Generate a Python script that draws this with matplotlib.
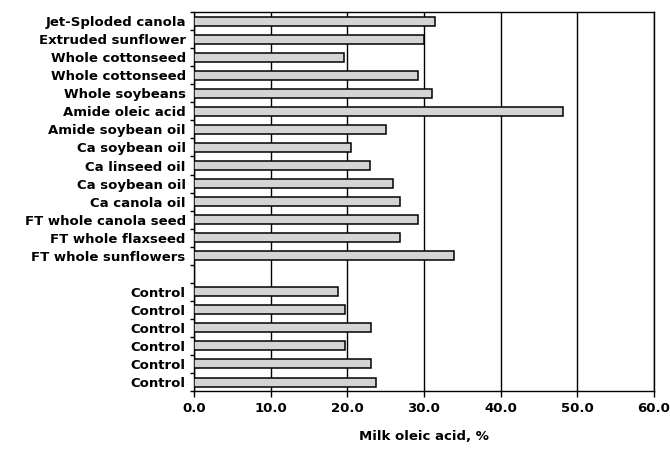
import numpy as np
import matplotlib
matplotlib.use('Agg')
import matplotlib.pyplot as plt

plt.rcParams['font.family'] = ['DejaVu Sans']

# top to bottom, '' marks the empty gap row
labels = ['Jet-Sploded canola', 'Extruded sunflower', 'Whole cottonseed',
          'Whole cottonseed', 'Whole soybeans', 'Amide oleic acid',
          'Amide soybean oil', 'Ca soybean oil', 'Ca linseed oil',
          'Ca soybean oil', 'Ca canola oil', 'FT whole canola seed',
          'FT whole flaxseed', 'FT whole sunflowers', '',
          'Control', 'Control', 'Control', 'Control', 'Control', 'Control']
values = [31.4, 30.0, 19.6, 29.2, 31.0, 48.2, 25.0, 20.5, 22.9, 25.9, 26.9,
          29.2, 26.9, 33.9, np.nan, 18.8, 19.7, 23.1, 19.7, 23.1, 23.7]
xticks = [0, 10, 20, 30, 40, 50, 60]

fig = plt.figure(figsize=(6.7, 4.5), dpi=100)
ax = fig.add_axes([0.2896, 0.131, 0.976 - 0.2896, 0.973 - 0.131])

n = len(labels)
y = np.arange(n)
vals = np.array(values, dtype=float)
mask = ~np.isnan(vals)
ax.barh(y[mask], vals[mask], height=0.5, color='#d4d4d4',
        edgecolor='black', linewidth=1.1, zorder=3)

ax.set_ylim(n - 0.5, -0.5)
ax.set_xlim(0, 60)
ax.set_yticks(y)
ax.set_yticklabels(labels, fontsize=9.5, fontweight='bold')
ax.set_yticks(np.arange(n + 1) - 0.5, minor=True)
ax.tick_params(axis='y', which='major', length=0, pad=6)
ax.tick_params(axis='y', which='minor', length=3, width=1, direction='out')

ax.set_xticks(xticks)
ax.set_xticklabels([f'{v:.1f}' for v in xticks], fontsize=9.5, fontweight='bold')
ax.tick_params(axis='x', length=4, width=1, direction='out', pad=4)

ax.grid(axis='x', color='black', linewidth=1.0, zorder=0)
ax.set_axisbelow(True)
for s in ax.spines.values():
    s.set_linewidth(1.0)

ax.set_xlabel('Milk oleic acid, %', fontsize=9.5, fontweight='bold', labelpad=11)

fig.savefig('out.png', dpi=100)
